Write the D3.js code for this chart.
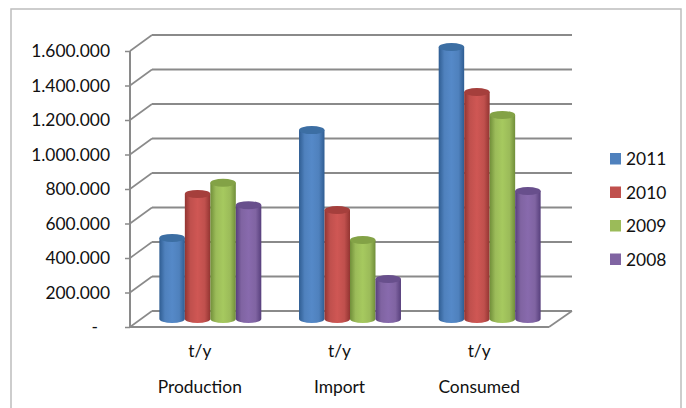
<!DOCTYPE html>
<html>
<head>
<meta charset="utf-8">
<script src="https://cdnjs.cloudflare.com/ajax/libs/d3/7.8.5/d3.min.js"></script>
<style>
  html, body { margin: 0; padding: 0; background: #fff; }
  svg { display: block; }
  text { font-family: Lato, "Open Sans", sans-serif; font-size: 17.4px; fill: #111; }
</style>
</head>
<body>
<svg id="chart"></svg>
<script>
// Values
const categories = ["Production", "Import", "Consumed"];
const unitLabel = "t/y";
const years = ["2011", "2010", "2009", "2008"];
const values2011 = [470000, 1095000, 1577000];
const values2010 = [725000, 632000, 1316000];
const values2009 = [790000, 458000, 1183000];
const values2008 = [660000, 232000, 742000];
const yTicks = [0, 200000, 400000, 600000, 800000, 1000000, 1200000, 1400000, 1600000];
const seriesValues = [values2011, values2010, values2009, values2008];

const colors = ["#4f81bd", "#c0504d", "#9bbb59", "#8064a2"];
const darks = ["#2f5d92", "#923431", "#708e39", "#573f7c"];
const mids = ["#5589c8", "#cf5754", "#a6c95f", "#886aad"];
const tops = ["#3c6ea3", "#a53f3c", "#83a246", "#684f8c"];

const width = 686, height = 408;
const svg = d3.select("#chart").attr("width", width).attr("height", height);

// Chart frame
svg.append("rect")
    .attr("x", 11).attr("y", 9)
    .attr("width", 670).attr("height", 410)
    .attr("fill", "#fff").attr("stroke", "#bdbdbd").attr("stroke-width", 1.5);

// Front and back planes of the 3d box
const depthX = 22, depthY = -16;
const frontLeft = 130, frontRight = 549;
const y = d3.scaleLinear().domain([0, 1600000]).range([327, 51]);

const x0 = d3.scaleBand()
    .domain(categories)
    .range([frontLeft, frontRight]);

const x1 = d3.scaleBand()
    .domain(years)
    .range([0, x0.bandwidth() * 0.73]);

const gridColor = "#8a8a8a";

// Horizontal grid lines on the back wall
svg.selectAll(".grid")
  .data(yTicks)
  .enter().append("line")
    .attr("class", "grid")
    .attr("x1", frontLeft + depthX)
    .attr("x2", frontRight + depthX + 1)
    .attr("y1", d => y(d) + depthY)
    .attr("y2", d => y(d) + depthY)
    .attr("stroke", gridColor)
    .attr("stroke-width", 1.8);

// Diagonals on the side wall
svg.selectAll(".side")
  .data(yTicks)
  .enter().append("line")
    .attr("class", "side")
    .attr("x1", frontLeft)
    .attr("x2", frontLeft + depthX)
    .attr("y1", d => y(d))
    .attr("y2", d => y(d) + depthY)
    .attr("stroke", gridColor)
    .attr("stroke-width", 1.6);

// Floor edge
svg.append("line")
    .attr("x1", frontRight).attr("x2", frontRight + depthX + 1)
    .attr("y1", y(0)).attr("y2", y(0) + depthY)
    .attr("stroke", gridColor).attr("stroke-width", 1.6);
svg.append("line")
    .attr("x1", frontLeft).attr("x2", frontRight)
    .attr("y1", y(0)).attr("y2", y(0))
    .attr("stroke", gridColor).attr("stroke-width", 2);

// Y axis
const axis = svg.append("g")
    .attr("transform", `translate(${frontLeft},0)`)
    .call(d3.axisLeft(y)
        .tickValues(yTicks)
        .tickSize(5)
        .tickPadding(15)
        .tickFormat(d => d === 0 ? "-" : d3.format(",")(d).replace(/,/g, ".")));
axis.select(".domain").attr("stroke", gridColor).attr("stroke-width", 2).attr("d", `M0,${y(1600000)}V${y(0)}`);
axis.selectAll(".tick line").attr("stroke", gridColor).attr("stroke-width", 1.5);
axis.selectAll(".tick text").style("font-family", "Lato, sans-serif").style("font-size", "17.4px").attr("fill", "#111");
axis.selectAll(".tick text").filter(d => d === 0).attr("dx", -12);

// Cylinder shading
const defs = svg.append("defs");
years.forEach((yr, i) => {
  const g = defs.append("linearGradient").attr("id", "cyl" + yr);
  g.append("stop").attr("offset", "0%").attr("stop-color", darks[i]);
  g.append("stop").attr("offset", "22%").attr("stop-color", colors[i]);
  g.append("stop").attr("offset", "50%").attr("stop-color", mids[i]);
  g.append("stop").attr("offset", "78%").attr("stop-color", colors[i]);
  g.append("stop").attr("offset", "100%").attr("stop-color", darks[i]);
});

// Bars sit half way into the box
const barOffsetX = x0.bandwidth() * 0.135 + depthX / 2 - 0.5;
const barOffsetY = depthY / 2;
const barW = x1.bandwidth();
const ry = 4;

const bars = [];
categories.forEach((c, ci) => {
  years.forEach((yr, si) => bars.push({ category: c, year: yr, si: si, value: seriesValues[si][ci] }));
});

const barGroup = svg.selectAll(".bar")
  .data(bars)
  .enter().append("g")
    .attr("class", "bar")
    .attr("transform", d => `translate(${x0(d.category) + x1(d.year) + barOffsetX},${barOffsetY})`);

barGroup.append("path")
    .attr("fill", d => `url(#cyl${d.year})`)
    .attr("d", d => `M0,${y(d.value)}V${y(0)}A${barW / 2},${ry} 0 0 0 ${barW},${y(0)}V${y(d.value)}Z`);

barGroup.append("ellipse")
    .attr("cx", barW / 2)
    .attr("cy", d => y(d.value))
    .attr("rx", barW / 2)
    .attr("ry", ry)
    .attr("fill", d => tops[d.si]);

// Category labels
svg.selectAll(".unit")
  .data(categories)
  .enter().append("text")
    .attr("class", "unit")
    .attr("x", d => x0(d) + x0.bandwidth() / 2)
    .attr("y", 357)
    .attr("text-anchor", "middle")
    .text(unitLabel);

svg.selectAll(".cat")
  .data(categories)
  .enter().append("text")
    .attr("class", "cat")
    .attr("x", d => x0(d) + x0.bandwidth() / 2)
    .attr("y", 393)
    .attr("text-anchor", "middle")
    .text(d => d);

// Legend
const legend = svg.selectAll(".legend")
  .data(years)
  .enter().append("g")
    .attr("class", "legend")
    .attr("transform", (d, i) => `translate(610,${153 + i * 33.5})`);
legend.append("rect")
    .attr("width", 11).attr("height", 11.5)
    .attr("fill", (d, i) => colors[i]);
legend.append("text")
    .attr("x", 16).attr("y", 12)
    .text(d => d);
</script>
</body>
</html>
